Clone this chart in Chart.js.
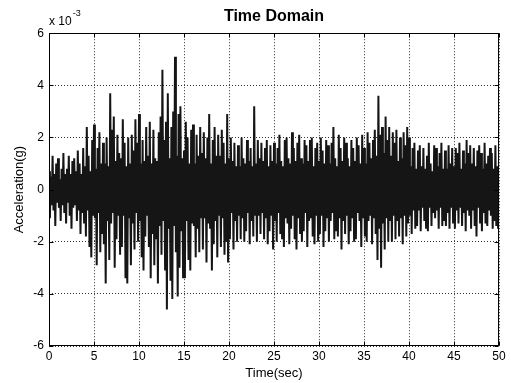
<!DOCTYPE html>
<html>
<head>
<meta charset="utf-8">
<script src="https://cdn.jsdelivr.net/npm/chart.js@4.4.0/dist/chart.umd.min.js"></script>
<style>
html, body { margin: 0; padding: 0; background: #fff; }
#wrap { width: 511px; height: 383px; }
</style>
</head>
<body>
<div id="wrap"><canvas id="timeChart"></canvas></div>
<script>
// sampling step (sec) and acceleration, in units of 1e-3 g
const dt = 0.1;
const accel = [
    0.7, -1.1, 0.5, -0.6, 1.3, -0.8, 0.6, -1.4, 1.0, -0.5,
    1.2, -0.7, 0.4, -1.2, 0.8, -0.6, 1.4, -0.9, 0.6, -1.3,
    0.8, -0.5, 1.3, -1.0, 0.6, -1.5, 1.1, -0.7, 1.2, -0.6,
    0.7, -1.2, 1.5, -0.8, 1.0, -1.7, 0.6, -0.9, 1.6, -1.3,
    0.9, -1.8, 2.4, -0.8, 1.3, -2.2, 0.7, -2.6, 1.9, -1.0,
    2.5, -1.1, 0.8, -2.9, 1.6, -0.9, 2.2, -2.4, 1.0, -1.7,
    1.8, -2.1, 1.0, -3.6, 2.0, -1.2, 0.9, -2.7, 3.7, -1.3,
    2.3, -0.9, 2.8, -3.0, 1.1, -1.9, 2.1, -1.0, 1.4, -2.5,
    1.2, -2.2, 2.7, -1.0, 1.8, -3.4, 0.9, -3.6, 2.0, -1.1,
    1.0, -2.9, 2.1, -1.3, 1.5, -2.3, 2.7, -0.9, 1.8, -2.0,
    2.9, -1.2, 1.0, -2.6, 1.9, -3.1, 1.1, -1.8, 2.4, -1.0,
    1.3, -2.2, 2.6, -3.4, 1.0, -1.7, 2.3, -2.9, 1.2, -1.9,
    1.1, -3.6, 2.2, -1.4, 2.8, -2.5, 4.6, -1.2, 1.9, -3.1,
    2.6, -4.6, 3.7, -1.5, 1.2, -3.5, 2.4, -4.2, 3.0, -1.4,
    5.1, -2.4, 1.3, -4.1, 2.9, -3.0, 3.2, -1.6, 1.2, -3.4,
    1.5, -3.4, 2.6, -1.2, 2.0, -2.7, 1.0, -3.1, 2.3, -1.3,
    2.5, -1.4, 1.0, -2.6, 2.1, -1.5, 1.3, -2.4, 2.4, -1.1,
    1.4, -2.3, 2.2, -1.1, 1.2, -2.8, 2.0, -1.3, 2.9, -1.5,
    1.0, -3.1, 1.9, -2.1, 2.4, -1.2, 1.3, -2.6, 2.1, -1.0,
    1.3, -2.2, 2.3, -1.1, 1.8, -2.5, 1.0, -2.0, 2.9, -2.8,
    1.2, -1.9, 2.0, -0.9, 1.1, -2.3, 1.8, -1.2, 0.9, -2.0,
    1.7, -1.0, 0.9, -1.9, 2.0, -1.1, 1.2, -2.0, 1.0, -1.6,
    1.9, -0.9, 1.1, -2.1, 1.6, -1.2, 0.9, -1.8, 3.2, -1.0,
    1.0, -2.0, 1.9, -1.0, 1.2, -1.7, 1.8, -0.9, 1.1, -1.9,
    1.6, -1.1, 1.9, -2.1, 0.9, -1.6, 1.7, -1.0, 1.1, -2.3,
    1.8, -1.2, 1.0, -2.0, 1.6, -0.9, 2.1, -1.7, 1.1, -1.9,
    0.9, -2.2, 1.9, -1.1, 2.0, -1.3, 1.2, -2.1, 1.0, -1.5,
    2.2, -1.0, 1.6, -1.9, 1.1, -2.3, 1.8, -1.1, 2.1, -1.7,
    1.2, -2.0, 1.0, -1.6, 1.9, -0.9, 1.7, -2.2, 1.1, -1.2,
    1.9, -1.1, 2.0, -1.8, 0.9, -2.1, 1.6, -1.0, 1.8, -2.0,
    1.1, -1.7, 2.0, -1.0, 1.5, -2.2, 1.0, -1.6, 1.9, -1.1,
    1.7, -2.0, 1.0, -1.2, 1.8, -0.9, 2.4, -1.9, 1.2, -1.6,
    0.9, -1.8, 2.1, -1.1, 1.6, -2.3, 1.1, -1.2, 2.0, -1.7,
    1.8, -1.0, 1.2, -2.1, 0.9, -1.6, 1.9, -1.1, 1.6, -2.0,
    1.1, -1.9, 2.0, -0.9, 1.7, -1.2, 1.0, -2.2, 2.1, -1.1,
    1.6, -1.8, 1.0, -2.0, 2.2, -1.2, 1.8, -1.0, 1.2, -2.1,
    1.9, -1.1, 2.3, -1.7, 1.3, -2.7, 3.6, -1.5, 2.1, -3.0,
    2.4, -1.3, 1.4, -2.3, 2.8, -1.1, 1.9, -2.0, 2.4, -1.2,
    1.3, -2.0, 2.2, -1.0, 1.8, -1.9, 2.3, -1.2, 1.1, -1.8,
    2.0, -1.1, 1.2, -2.1, 2.2, -1.0, 1.7, -1.8, 2.4, -1.3,
    2.0, -1.0, 0.9, -1.7, 1.6, -0.8, 1.8, -1.5, 0.8, -1.4,
    1.5, -0.8, 1.7, -1.6, 0.9, -0.7, 1.6, -1.2, 0.8, -1.5,
    1.3, -1.6, 1.8, -0.7, 1.0, -1.4, 0.7, -0.9, 1.7, -1.1,
    1.6, -0.8, 0.9, -1.5, 1.4, -0.7, 1.8, -1.4, 0.8, -1.2,
    1.5, -1.4, 0.8, -0.9, 1.7, -1.5, 1.0, -0.7, 1.6, -1.3,
    0.9, -1.5, 1.6, -0.8, 1.4, -1.3, 1.8, -0.7, 0.8, -1.4,
    1.5, -0.9, 1.0, -1.6, 1.9, -0.8, 1.4, -1.0, 1.7, -1.5,
    1.0, -0.8, 1.6, -1.4, 0.9, -1.8, 1.5, -0.7, 1.7, -1.3,
    1.4, -1.6, 0.8, -0.9, 1.8, -1.3, 1.0, -1.4, 1.3, -0.8,
    1.6, -1.0, 1.4, -1.5, 0.8, -1.2, 1.7, -1.4, 0.9, -1.5,
    1.2
];
const xTicks = [0, 5, 10, 15, 20, 25, 30, 35, 40, 45, 50];
const yTicks = [-6, -4, -2, 0, 2, 4, 6];

const points = accel.map((v, i) => ({x: +(i * dt).toFixed(2), y: v}));

// matlab style box with inward ticks and the exponent note
const framePlugin = {
    id: 'frame',
    afterDraw(chart) {
        const ctx = chart.ctx;
        const a = chart.chartArea;
        const sx = chart.scales.x, sy = chart.scales.y;
        const L = Math.round(a.left) + 0.5, R = Math.round(a.right) - 0.5;
        const T = Math.round(a.top) + 0.5, B = Math.round(a.bottom) - 0.5;
        ctx.save();
        ctx.strokeStyle = '#000';
        ctx.lineWidth = 1;
        ctx.strokeRect(L, T, R - L, B - T);
        ctx.beginPath();
        xTicks.forEach(t => {
            const px = Math.round(sx.getPixelForValue(t)) + 0.5;
            ctx.moveTo(px, B); ctx.lineTo(px, B - 4);
            ctx.moveTo(px, T); ctx.lineTo(px, T + 4);
        });
        yTicks.forEach(t => {
            const py = Math.round(sy.getPixelForValue(t)) + 0.5;
            ctx.moveTo(L, py); ctx.lineTo(L + 4, py);
            ctx.moveTo(R, py); ctx.lineTo(R - 4, py);
        });
        ctx.stroke();
        ctx.fillStyle = '#000';
        ctx.textBaseline = 'alphabetic';
        ctx.font = '12px "Liberation Sans", Arial, sans-serif';
        ctx.fillText('x 10', 49, 25);
        const w = ctx.measureText('x 10').width;
        ctx.font = '9px "Liberation Sans", Arial, sans-serif';
        ctx.fillText('-3', 49 + w + 1, 16);
        ctx.restore();
    }
};

const tickFont = {family: '"Liberation Sans", Arial, sans-serif', size: 12};

new Chart(document.getElementById('timeChart'), {
    type: 'line',
    data: {
        datasets: [{
            label: 'Acceleration',
            data: points,
            borderColor: '#151515',
            borderWidth: 2,
            pointRadius: 0,
            tension: 0,
            fill: false
        }]
    },
    options: {
        responsive: true,
        maintainAspectRatio: false,
        animation: false,
        layout: {padding: {left: 0, right: 12, top: 0, bottom: 0}},
        plugins: {
            legend: {display: false},
            tooltip: {enabled: false},
            title: {
                display: true,
                text: 'Time Domain',
                fullSize: false,
                color: '#000',
                font: {family: '"Liberation Sans", Arial, sans-serif', size: 16, weight: 'bold', lineHeight: 1.2},
                padding: {top: 7, bottom: 7}
            }
        },
        scales: {
            x: {
                type: 'linear',
                min: 0,
                max: 50,
                afterBuildTicks: s => { s.ticks = xTicks.map(v => ({value: v})); },
                afterFit: s => { s.height = 37; },
                ticks: {color: '#000', font: tickFont, padding: 3, maxRotation: 0},
                grid: {color: '#333', drawTicks: false},
                border: {display: false, dash: [1, 2]},
                title: {
                    display: true,
                    text: 'Time(sec)',
                    color: '#000',
                    font: {family: '"Liberation Sans", Arial, sans-serif', size: 13},
                    padding: {top: 0, bottom: 2}
                }
            },
            y: {
                min: -6,
                max: 6,
                afterBuildTicks: s => { s.ticks = yTicks.map(v => ({value: v})); },
                afterFit: s => { s.width = 49; },
                ticks: {color: '#000', font: tickFont, padding: 5},
                grid: {color: '#333', drawTicks: false},
                border: {display: false, dash: [1, 2]},
                title: {
                    display: true,
                    text: 'Acceleration(g)',
                    color: '#000',
                    font: {family: '"Liberation Sans", Arial, sans-serif', size: 13},
                    padding: {top: 12, bottom: 0}
                }
            }
        }
    },
    plugins: [framePlugin]
});
</script>
</body>
</html>
